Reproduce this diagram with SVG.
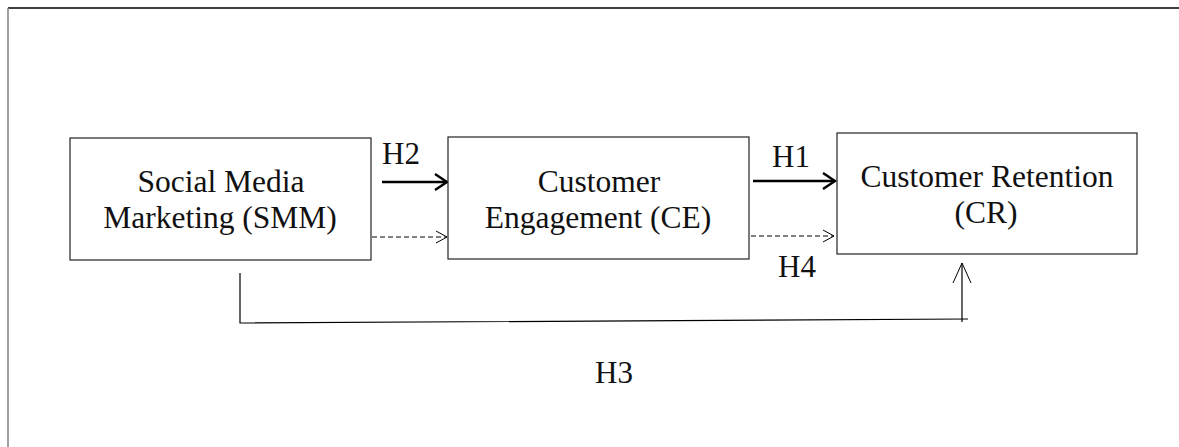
<svg xmlns="http://www.w3.org/2000/svg" width="1179" height="447" viewBox="0 0 1179 447">
<defs>
<style>
.box{fill:#fff;stroke:#222;stroke-width:1.2}
.t{font-family:"Liberation Serif","Times New Roman",serif;font-size:31.5px;fill:#111;text-anchor:middle}
.h{font-family:"Liberation Serif","Times New Roman",serif;font-size:31px;fill:#111}
.solid{stroke:#000;stroke-width:2.4;fill:none}
.dash{stroke:#000;stroke-width:1;stroke-dasharray:5,3;fill:none}
.thin{stroke:#000;stroke-width:1.2;fill:none}
</style>
<marker id="hs" markerWidth="16" markerHeight="18" refX="13" refY="9" orient="auto" markerUnits="userSpaceOnUse">
<path d="M1,1 L13,9 L1,17" fill="none" stroke="#000" stroke-width="2.4"/>
</marker>
<marker id="hd" markerWidth="14" markerHeight="16" refX="12" refY="8" orient="auto" markerUnits="userSpaceOnUse">
<path d="M1,2 L12,8 L1,14" fill="none" stroke="#000" stroke-width="1"/>
</marker>
<marker id="ht" markerWidth="24" markerHeight="20" refX="21" refY="10" orient="auto" markerUnits="userSpaceOnUse">
<path d="M1,1 L21,10 L1,19" fill="none" stroke="#000" stroke-width="1"/>
</marker>
</defs>
<rect width="1179" height="447" fill="#fff"/>
<g id="frame">
<line x1="8" y1="8" x2="1179" y2="8" stroke="#000" stroke-width="1.5"/>
<line x1="8" y1="8" x2="8" y2="447" stroke="#808080" stroke-width="1.5"/>
</g>
<g id="connectors">
<line class="solid" x1="382" y1="182" x2="447" y2="182" marker-end="url(#hs)"/>
<line class="dash" x1="372" y1="237" x2="447" y2="237" marker-end="url(#hd)"/>
<line class="solid" x1="753" y1="181" x2="835" y2="181" marker-end="url(#hs)"/>
<line class="dash" x1="751" y1="236" x2="834" y2="236" marker-end="url(#hd)"/>
<polyline class="thin" points="240,273 240,323 968,319"/>
<line class="thin" x1="962" y1="322" x2="962" y2="263" marker-end="url(#ht)"/>
<text class="h" x="382" y="164">H2</text>
<text class="h" x="772" y="167">H1</text>
<text class="h" x="778" y="277">H4</text>
<text class="h" x="595" y="383">H3</text>
</g>
<g id="smm">
<rect class="box" x="70" y="138" width="301" height="122"/>
<text class="t" x="221" y="192">Social Media</text>
<text class="t" x="220" y="228">Marketing (SMM)</text>
</g>
<g id="ce">
<rect class="box" x="448" y="137" width="301" height="122"/>
<text class="t" x="599" y="192">Customer</text>
<text class="t" x="598" y="228">Engagement (CE)</text>
</g>
<g id="cr">
<rect class="box" x="837" y="133" width="300" height="121"/>
<text class="t" x="987" y="187">Customer Retention</text>
<text class="t" x="986" y="223">(CR)</text>
</g>
</svg>
